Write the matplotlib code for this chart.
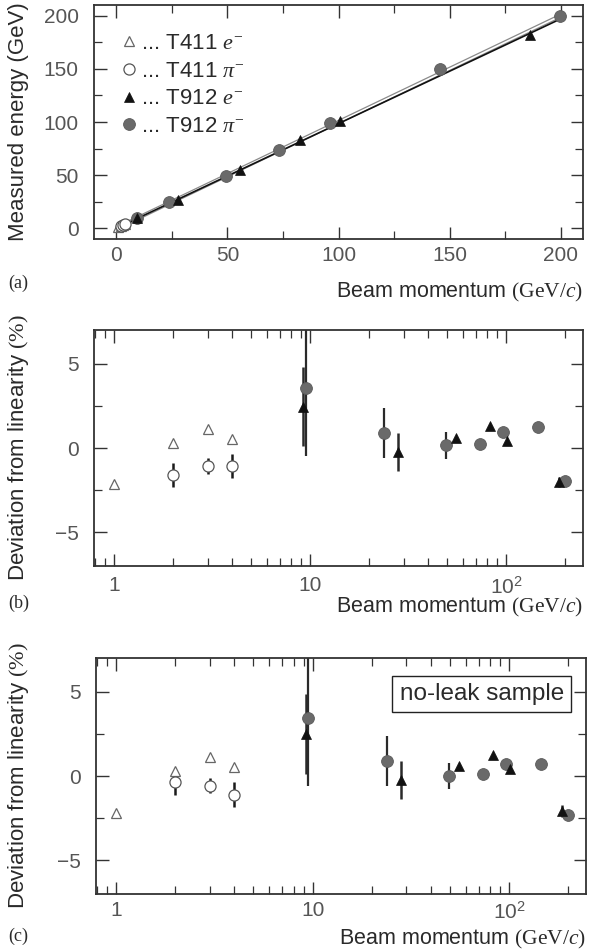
import numpy as np
import matplotlib
matplotlib.use("Agg")
import matplotlib.pyplot as plt
from matplotlib.ticker import MultipleLocator, FixedLocator, FixedFormatter, NullFormatter, LogLocator

plt.rcParams['font.family'] = ['Liberation Sans', 'DejaVu Sans']
plt.rcParams['mathtext.fontset'] = 'custom'
plt.rcParams['mathtext.rm'] = 'Liberation Serif'
plt.rcParams['mathtext.it'] = 'Liberation Serif:italic'
plt.rcParams['mathtext.bf'] = 'Liberation Serif:bold'

# ----- data -----
t411_p = [1, 2, 3, 4]
t411_pi_p = [2, 3, 4]
t912_e_p = [9.2, 28, 55.5, 82.7, 100.8, 186]
t912_pi_p = [9.5, 23.8, 49.2, 73.2, 96.3, 145.8, 199.5]

# (a) measured energy (GeV)
a_t411_e = [1.0, 2.0, 3.0, 4.0]
a_t411_pi = [2.0, 3.0, 4.0]
a_t912_e = [9.5, 27, 54.5, 83, 100.5, 182]
a_t912_pi = [9.7, 24.4, 49.4, 73.8, 99, 150, 200]
fit_p = [0, 200]
fit_e = [0, 197]
fit_pi = [0, 200]

# (b) deviation from linearity (%)
b_t411_e = [-2.15, 0.32, 1.1, 0.55]
b_t411_pi = [-1.6, -1.07, -1.07]
b_t411_pi_err = [0.7, 0.45, 0.7]
b_t912_e = [2.45, -0.24, 0.59, 1.28, 0.4, -2.0]
b_t912_e_err = [2.35, 1.15, 0, 0, 0, 0.3]
b_t912_pi = [3.54, 0.89, 0.16, 0.24, 0.95, 1.22, -1.96]
b_t912_pi_err = [4.0, 1.5, 0.8, 0, 0, 0, 0]

# (c) no-leak sample
c_t411_e = [-2.17, 0.3, 1.12, 0.56]
c_t411_pi = [-0.38, -0.58, -1.1]
c_t411_pi_err = [0.75, 0.45, 0.75]
c_t912_e = [2.49, -0.24, 0.62, 1.25, 0.4, -2.09]
c_t912_e_err = [2.4, 1.15, 0, 0, 0, 0.35]
c_t912_pi = [3.45, 0.9, 0.0, 0.12, 0.72, 0.74, -2.29]
c_t912_pi_err = [4.05, 1.5, 0.8, 0, 0, 0, 0]

# ----- style -----
ink = '#2a2a2a'
tick_col = '#555555'
open_tri = dict(marker='^', ms=7, mfc='white', mec='#666666', mew=0.9, ls='none', zorder=4)
open_circ = dict(marker='o', ms=8, mfc='white', mec='#555555', mew=0.9, ls='none', zorder=4)
full_tri = dict(marker='^', ms=7.5, mfc='#111111', mec='#111111', mew=0.5, ls='none', zorder=4)
full_circ = dict(marker='o', ms=8.5, mfc='#6a6a6a', mec='#5a5a5a', mew=0.6, ls='none', zorder=3)

fig = plt.figure(figsize=(5.99, 9.51), dpi=100)
W, H = 599.0, 951.0


def frame(left, top, right, bottom):
    return fig.add_axes([left / W, 1 - bottom / H, (right - left) / W, (bottom - top) / H])


def style(ax, xpad):
    for s in ax.spines.values():
        s.set_color('#333333')
        s.set_linewidth(1.3)
    ax.tick_params(which='both', direction='in', top=True, right=True,
                   colors='#333333', labelcolor=tick_col, labelsize=15)
    ax.tick_params(which='major', length=9, width=1.0)
    ax.tick_params(which='minor', length=5.5, width=0.9)
    ax.tick_params(axis='x', which='major', pad=xpad)
    ax.tick_params(axis='y', which='major', pad=11)


def ylabel(ax, text):
    ax.set_ylabel(text, fontsize=16, color=ink, va='center')
    pos = ax.get_position()
    ax.yaxis.set_label_coords((19 / W - pos.x0) / pos.width, 0.5)


def xlabel(ax, ypix):
    pos = ax.get_position()
    fig.text(pos.x1, 1 - ypix / H, r'Beam momentum $(\mathrm{GeV}/c)$', ha='right', va='center',
             fontsize=15.5, color=ink)


def panel_tag(tag, ypix):
    fig.text(8 / W, 1 - ypix / H, tag, ha='left', va='center', fontsize=13,
             family='Liberation Serif', color=ink)


# ----- (a) -----
ax = frame(94, 5, 583, 239)
style(ax, 5)
ax.plot(fit_p, fit_pi, color='#8a8a8a', lw=3.0, zorder=2, solid_capstyle='butt')
ax.plot(fit_p, fit_pi, color='white', lw=1.2, zorder=2, solid_capstyle='butt')
ax.plot(fit_p, fit_e, color='#111111', lw=1.2, zorder=2)
ax.plot(t411_p, a_t411_e, label=r'... T411 $e^{-}$', **open_tri)
ax.plot(t411_pi_p, a_t411_pi, label=r'... T411 $\pi^{-}$', **open_circ)
ax.plot(t912_e_p, a_t912_e, label=r'... T912 $e^{-}$', **full_tri)
ax.plot(t912_pi_p, a_t912_pi, label=r'... T912 $\pi^{-}$', **full_circ)
ax.set_xlim(-10, 210)
ax.set_ylim(-10, 210)
ax.xaxis.set_major_locator(MultipleLocator(50))
ax.xaxis.set_minor_locator(MultipleLocator(25))
ax.yaxis.set_major_locator(MultipleLocator(50))
ax.yaxis.set_minor_locator(MultipleLocator(25))
ylabel(ax, 'Measured energy (GeV)')
leg = ax.legend(loc='upper left', bbox_to_anchor=(0.057, 0.88), frameon=False, fontsize=16,
                handlelength=0.6, handletextpad=0.25, labelspacing=0.3, borderaxespad=0,
                borderpad=0, labelcolor=ink)
xlabel(ax, 292)
panel_tag('(a)', 283)


# ----- (b), (c) -----
def deviation_panel(top, bottom, left, right, e411, pi411, pi411_err, e912, e912_err, pi912, pi912_err, xpad):
    ax = frame(left, top, right, bottom)
    style(ax, xpad)
    ax.set_xscale('log')
    ax.errorbar(t411_pi_p, pi411, yerr=pi411_err, fmt='none', ecolor='#1a1a1a', elinewidth=1.8, capsize=0, zorder=2)
    ax.errorbar(t912_e_p, e912, yerr=e912_err, fmt='none', ecolor='#2a2a2a', elinewidth=1.8, capsize=0, zorder=2)
    ax.errorbar(t912_pi_p, pi912, yerr=pi912_err, fmt='none', ecolor='#2a2a2a', elinewidth=1.6, capsize=0, zorder=2)
    ax.plot(t411_p, e411, **open_tri)
    ax.plot(t411_pi_p, pi411, **open_circ)
    ax.plot(t912_pi_p, pi912, **full_circ)
    ax.plot(t912_e_p, e912, **full_tri)
    ax.set_xlim(0.79, 246)
    ax.set_ylim(-7, 7)
    ax.xaxis.set_major_locator(FixedLocator([1, 10, 100]))
    ax.xaxis.set_major_formatter(FixedFormatter(['1', '10', r'$\mathdefault{10^2}$']))
    ax.xaxis.set_minor_locator(LogLocator(base=10, subs=np.arange(2, 10)))
    ax.xaxis.set_minor_formatter(NullFormatter())
    ax.yaxis.set_major_locator(MultipleLocator(5))
    ax.yaxis.set_minor_locator(MultipleLocator(2.5))
    ylabel(ax, r'Deviation from linearity $(\%)$')
    return ax


axb = deviation_panel(330, 566, 94, 583, b_t411_e, b_t411_pi, b_t411_pi_err,
                      b_t912_e, b_t912_e_err, b_t912_pi, b_t912_pi_err, 7)
xlabel(axb, 607)
panel_tag('(b)', 603)

axc = deviation_panel(658, 894, 96, 586, c_t411_e, c_t411_pi, c_t411_pi_err,
                      c_t912_e, c_t912_e_err, c_t912_pi, c_t912_pi_err, 5)
axc.text(0.955, 0.847, 'no-leak sample', transform=axc.transAxes, ha='right', va='center',
         fontsize=17.5, color=ink,
         bbox=dict(boxstyle='square,pad=0.3', fc='white', ec='#222222', lw=1.0))
xlabel(axc, 939)
panel_tag('(c)', 936)

fig.savefig('out.png', dpi=100)
